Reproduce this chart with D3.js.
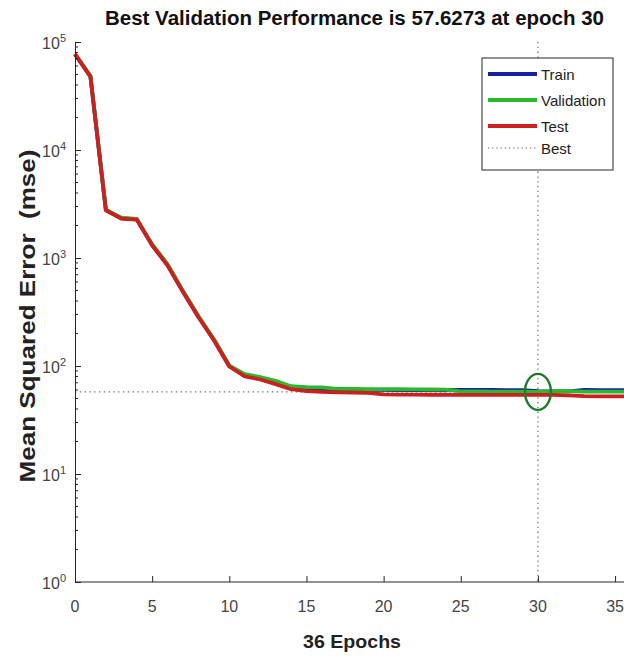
<!DOCTYPE html>
<html><head><meta charset="utf-8">
<script src="https://cdn.jsdelivr.net/npm/d3@7"></script>
<style>
body{margin:0;background:#fff;}
svg{display:block;}
text{font-family:"Liberation Sans Narrow","Arial Narrow","Liberation Sans",Arial,sans-serif;}
</style></head>
<body>
<svg id="chart" width="624" height="656"></svg>
<script>
const epochs = [0,1,2,3,4,5,6,7,8,9,10,11,12,13,14,15,16,17,18,19,20,21,22,23,24,25,26,27,28,29,30,31,32,33,34,35,36];
const train = [77000,48000,2780,2330,2280,1320,860,490,286,175,100,82,77,71,64,62,61,60.5,60.3,60.1,60,59.9,59.8,59.7,59.6,60.2,60.1,60,59.9,59.8,58.5,58.3,58.2,60,59.9,59.8,59.7];
const validation = [77500,48500,2800,2360,2300,1340,875,495,290,178,101,84,79,73,65,63.8,63.5,61.5,61.3,61.2,61,60.9,60.8,60.6,60.4,58.2,58.1,58,57.9,57.8,57.6273,58.6,58.5,58.0,57.9,57.9,58.0];
const test = [77200,47800,2770,2320,2270,1310,850,485,283,173,99,80,75,68,61,58.5,57.5,57,56.8,56.5,54.5,54.4,54.3,54.2,54.1,54,54,54,54,54,54,54,53.5,52.5,52.4,52.4,52.3];
const bestEpoch = 30;
const bestValue = 57.6273;
const xTicks = [0,5,10,15,20,25,30,35];
const yTicks = [1,10,100,1000,10000,100000];
const seriesNames = ["Train","Validation","Test"];
const seriesColors = ["#1520a6","#2cb82c","#cc1f1f"];

const svg = d3.select("#chart");
const x = d3.scaleLinear().domain([0,36]).range([75,630.5]);
const y = d3.scaleLog().domain([1,1e5]).range([582,42]);
const axisColor = "#262626";

// best dotted lines
svg.append("line").attr("x1",x(0)).attr("x2",x(36)).attr("y1",y(bestValue)).attr("y2",y(bestValue))
  .attr("stroke","#4a7a4a").attr("stroke-width",1.3).attr("stroke-dasharray","1.3,3.5");
svg.append("line").attr("x1",x(bestEpoch)).attr("x2",x(bestEpoch)).attr("y1",y(1e5)).attr("y2",y(1))
  .attr("stroke","#4a8a4a").attr("stroke-width",1.3).attr("stroke-dasharray","1.3,3.5");

// series lines
const line = d3.line().x((d,i)=>x(epochs[i])).y(d=>y(d));
[train,validation,test].forEach((s,k)=>{
  svg.append("path").datum(s).attr("d",line).attr("fill","none")
    .attr("stroke",seriesColors[k]).attr("stroke-width",3.8).attr("stroke-linejoin","round");
});

// best marker
svg.append("ellipse").attr("cx",x(bestEpoch)).attr("cy",y(bestValue)).attr("rx",13).attr("ry",18)
  .attr("fill","none").attr("stroke","#1f7a2a").attr("stroke-width",2.4);

// y axis
const yAxis = d3.axisLeft(y).tickValues(yTicks).tickSizeInner(-6).tickSizeOuter(0).tickFormat("");
const gy = svg.append("g").attr("transform",`translate(${x(0)},0)`).call(yAxis);
const minor = y.ticks().filter(v=>yTicks.indexOf(v)<0);
gy.selectAll(".minor").data(minor).enter().append("line").attr("class","minor")
  .attr("x1",0).attr("x2",3).attr("y1",d=>y(d)).attr("y2",d=>y(d)).attr("stroke",axisColor);
gy.selectAll("path,line").attr("stroke",axisColor);

// y tick labels
const yl = svg.append("g");
yTicks.forEach(v=>{
  const t = yl.append("text").attr("x",66).attr("y",y(v)+7).attr("text-anchor","end")
    .attr("fill","#444").attr("font-size",16);
  t.append("tspan").text("10");
  t.append("tspan").attr("dy",-7).attr("font-size",11).text(Math.round(Math.log10(v)));
});

// x axis
const xAxis = d3.axisBottom(x).tickValues(xTicks).tickSizeInner(-6).tickSizeOuter(0).tickFormat("");
const gx = svg.append("g").attr("transform",`translate(0,${y(1)})`).call(xAxis);
gx.selectAll("path,line").attr("stroke",axisColor);
gx.select("path").attr("d",`M${x(0)},0H${x(36)}`);
svg.append("g").selectAll("text").data(xTicks).enter().append("text")
  .attr("x",d=>x(d)).attr("y",612).attr("text-anchor","middle").attr("fill","#444").attr("font-size",16)
  .text(d=>d);

// title
svg.append("text").attr("x",354.5).attr("y",25).attr("text-anchor","middle")
  .attr("font-weight","bold").attr("font-size",21).attr("fill","#111")
  .attr("textLength",499).attr("lengthAdjust","spacingAndGlyphs")
  .text("Best Validation Performance is "+bestValue+" at epoch "+bestEpoch);
// x label
svg.append("text").attr("x",352).attr("y",648).attr("text-anchor","middle")
  .attr("font-weight","bold").attr("font-size",19).attr("fill","#222")
  .attr("textLength",98).attr("lengthAdjust","spacingAndGlyphs")
  .text(epochs.length-1+" Epochs");
// y label
const ylab = svg.append("g").attr("transform","translate(35,316) rotate(-90) scale(1.185,1)");
ylab.append("text").attr("x",0).attr("y",0).attr("text-anchor","middle")
  .attr("font-weight","bold").attr("font-size",22).attr("fill","#222")
  .text("Mean Squared Error\u00a0 (mse)");

// legend
const lg = svg.append("g");
lg.append("rect").attr("x",482).attr("y",58).attr("width",131).attr("height",112)
  .attr("fill","#fff").attr("stroke",axisColor).attr("stroke-width",1);
const legY = [74,100,126,148];
seriesNames.forEach((n,i)=>{
  lg.append("line").attr("x1",488).attr("x2",537).attr("y1",legY[i]).attr("y2",legY[i])
    .attr("stroke",seriesColors[i]).attr("stroke-width",3.8);
  lg.append("text").attr("x",541).attr("y",legY[i]+6).attr("font-size",15).attr("fill","#222").text(n);
});
lg.append("line").attr("x1",488).attr("x2",537).attr("y1",legY[3]).attr("y2",legY[3])
  .attr("stroke","#555").attr("stroke-width",1.2).attr("stroke-dasharray","1.2,3");
lg.append("text").attr("x",541).attr("y",legY[3]+6).attr("font-size",15).attr("fill","#222").text("Best");
</script>
</body></html>
